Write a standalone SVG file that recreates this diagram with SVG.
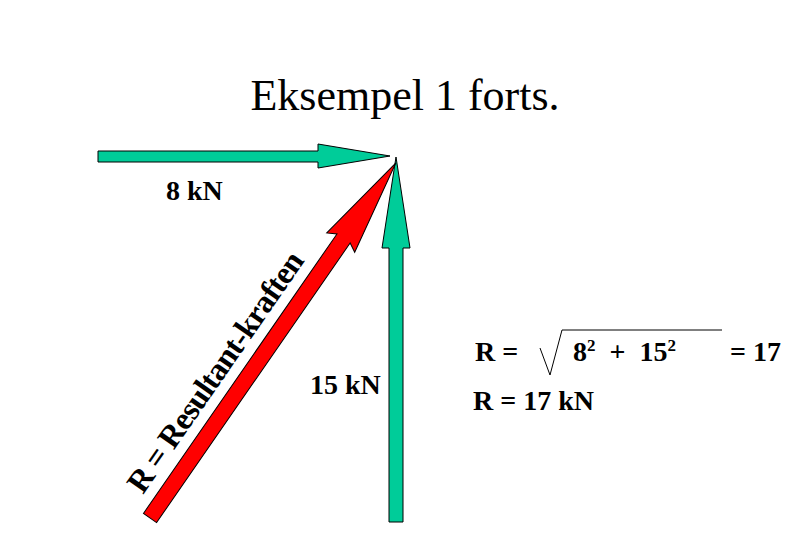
<svg xmlns="http://www.w3.org/2000/svg" width="810" height="540" viewBox="0 0 810 540">
<style>
.t{font-family:"Liberation Serif",serif;font-weight:bold;font-size:28px;fill:#000}
.g{fill:#00cc99;stroke:#000;stroke-width:1}
</style>
<rect width="810" height="540" fill="#fff"/>
<text x="405" y="110" text-anchor="middle" style="font-family:'Liberation Serif',serif;font-size:44px">Eksempel 1 forts.</text>
<g id="arrow8">
<polygon class="g" points="98,151 318,151 318,144 390,156 318,168 318,162 98,162"/>
<text class="t" x="166" y="200">8 kN</text>
</g>
<g id="arrow15">
<polygon class="g" points="389,522 389,248 382,248 396,157 410,248 403,248 403,522"/>
<text class="t" x="310" y="394">15 kN</text>
</g>
<g id="resultant">
<g transform="translate(150,518) rotate(-55.3)">
<polygon points="0,-8 340,-8 335,-17 432,0 335,17 340,8 0,8" fill="#ff0000" stroke="#000" stroke-width="1"/>
</g>
<text class="t" style="font-size:32px" textLength="285" lengthAdjust="spacing" transform="translate(143,495) rotate(-55.3)">R = Resultant-kraften</text>
</g>
<g id="formula">
<text class="t" x="475" y="361">R =</text>
<polyline points="540,348 550,375 562,330 722,330" fill="none" stroke="#000" stroke-width="1"/>
<text class="t" x="573" y="361">8<tspan dy="-10" font-size="17">2</tspan><tspan dy="10">&#160; + &#160;15</tspan><tspan dy="-10" font-size="17">2</tspan></text>
<text class="t" x="730" y="361">= 17</text>
<text class="t" x="473" y="410">R = 17 kN</text>
</g>
</svg>
